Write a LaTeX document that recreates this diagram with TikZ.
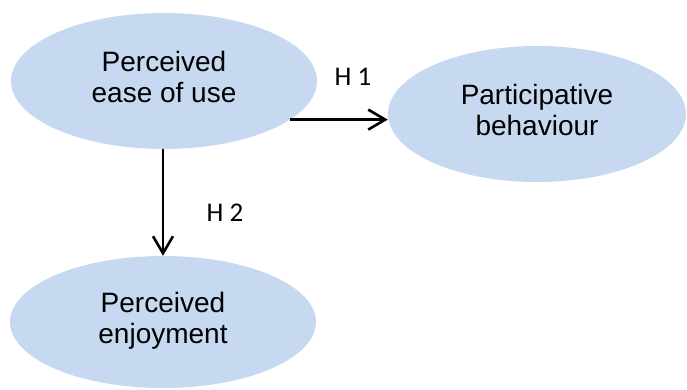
\documentclass[tikz,border=0pt]{standalone}
\usepackage{fontspec}
\setmainfont{Liberation Sans}
\newfontfamily\labelfont{Carlito}
\usetikzlibrary{shapes.geometric,arrows.meta}
\definecolor{bubble}{HTML}{C6D9F0}
% two centred lines, with strutted rows, raised by #1
\newcommand\twolines[3]{\raisebox{#1}{\begin{tabular}{@{}c@{}}#2\\#3\end{tabular}}}
\begin{document}
\begin{tikzpicture}[x=1pt,y=-1pt,
  construct/.style={ellipse,fill=bubble,draw=none,inner sep=0pt,
    minimum width=306pt,minimum height=136pt,
    font=\fontsize{28pt}{31pt}\selectfont},
  link/.style={line width=2.6pt,-{Straight Barb[length=17pt,width=20pt,line width=2.6pt]}},
  hyp/.style={font=\labelfont\fontsize{27pt}{30pt}\selectfont,inner sep=0pt}]
  \useasboundingbox (0,0) rectangle (687,389);

  % constructs
  \node[construct] (pe) at (164,81) {\twolines{4pt}{Perceived}{ease of use}};
  \node[construct,minimum width=298pt] (pb) at (537,114) {\twolines{3pt}{Participative}{behaviour}};
  \node[construct,minimum height=132pt] (pf) at (163,322) {\twolines{0pt}{Perceived}{enjoyment}};

  % hypothesised paths
  \draw[link] (pe.-17) -- (pe.-17 -| pb.west);
  \draw[link] (pe.south -| pf.north) -- (pf.north);

  % path labels
  \node[hyp] (h1) at (353,77) {H 1};
  \node[hyp] (h2) at (225,213) {H 2};
\end{tikzpicture}
\end{document}
